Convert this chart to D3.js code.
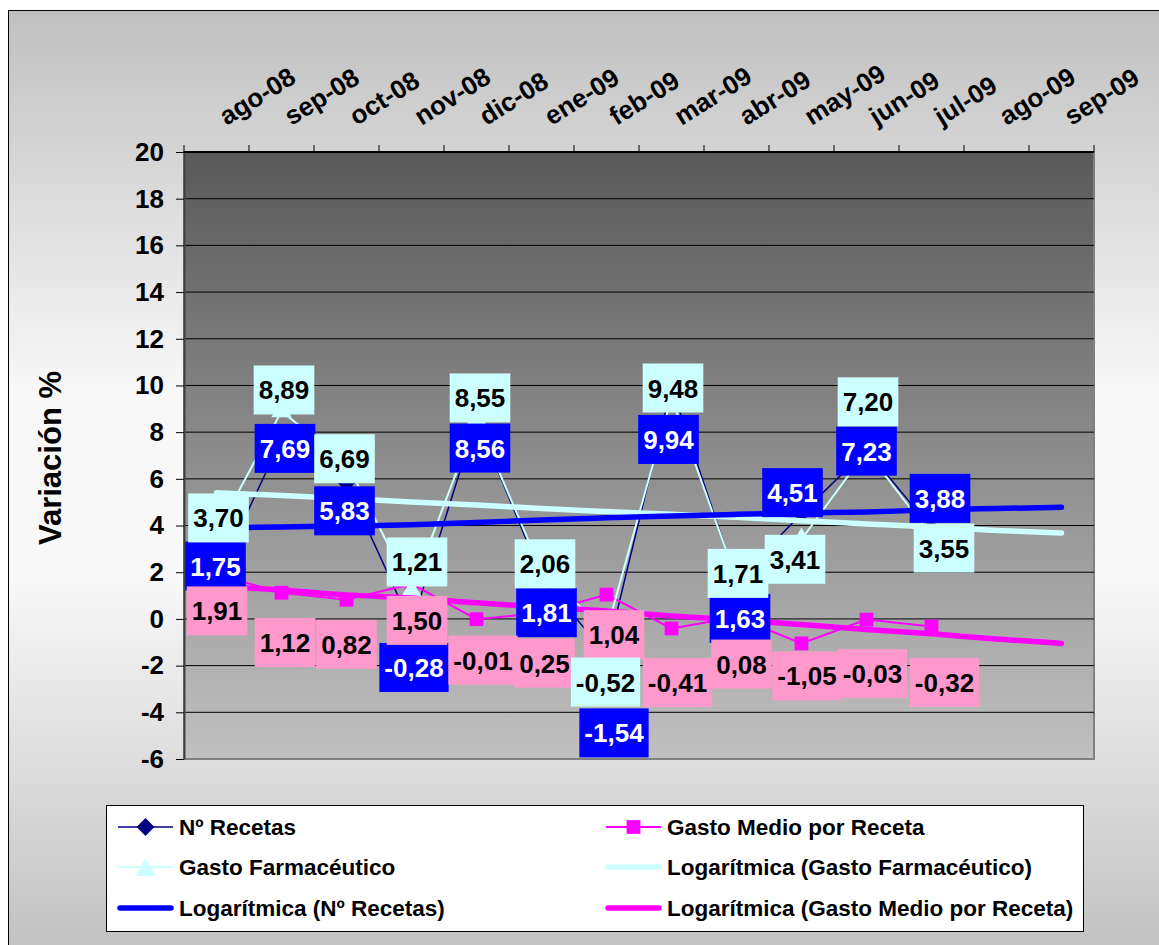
<!DOCTYPE html>
<html>
<head>
<meta charset="utf-8">
<script src="https://cdn.jsdelivr.net/npm/d3@7"></script>
<style>
  body { margin: 0; background: #fff; }
  svg text { font-family: "Liberation Sans", Arial, sans-serif; font-weight: bold; }
</style>
</head>
<body>
<svg id="chart" width="1159" height="945"></svg>
<script>
// ---- data ----
var months = ["ago-08", "sep-08", "oct-08", "nov-08", "dic-08", "ene-09", "feb-09",
              "mar-09", "abr-09", "may-09", "jun-09", "jul-09", "ago-09", "sep-09"];

var recetas    = [1.75, 7.69, 5.83, -0.28, 8.56, 1.81, -1.54, 9.94, 1.63, 4.51, 7.23, 3.88];
var gastoMedio = [1.91, 1.12, 0.82, 1.50, -0.01, 0.25, 1.04, -0.41, 0.08, -1.05, -0.03, -0.32];
var gastoFarm  = [3.70, 8.89, 6.69, 1.21, 8.55, 2.06, -0.52, 9.48, 1.71, 3.41, 7.20, 3.55];

// logarithmic trend lines as drawn (extend two months past the data)
var trendRecetas = [3.90, 3.94, 3.98, 4.03, 4.13, 4.24, 4.33, 4.41, 4.48, 4.54, 4.58, 4.67, 4.73, 4.78];
var trendMedio   = [1.41, 1.24, 1.03, 0.90, 0.69, 0.51, 0.34, 0.13, -0.04, -0.24, -0.45, -0.64, -0.86, -1.05];
var trendFarm    = [5.40, 5.29, 5.16, 5.01, 4.88, 4.73, 4.60, 4.48, 4.35, 4.20, 4.07, 3.94, 3.79, 3.68];

var yTicks = [-6, -4, -2, 0, 2, 4, 6, 8, 10, 12, 14, 16, 18, 20];

// ---- layout: label box nudges in px (labels were dragged by hand in the original) ----
var nudgeRecetas = [[-1,-12],[3.5,9],[-2,28],[2.5,42],[3.5,29],[5,36],[7.5,78],[-3,52.6],[3.5,37.6],[-9,-21],[0,1],[8.5,-30]];
var nudgeMedio   = [[0.5,36.6],[3.5,49.7],[0,44.6],[5.5,36.5],[6.5,41],[3,50],[7.5,40],[6,54],[5,47],[5.5,32.5],[6,54],[13,56]];
var nudgeFarm    = [[2,-14.6],[2.5,-21.4],[-2,-4],[5.5,-28.7],[3.5,-21.4],[3.5,-7],[-1,51],[1.5,-9.6],[1.5,-5.6],[-6.5,20],[1.5,-49],[12.5,12]];

var svg = d3.select("#chart");
var defs = svg.append("defs");

// background gradients
var bg = defs.append("linearGradient").attr("id", "bgGrad")
    .attr("x1", 0).attr("y1", 0).attr("x2", 0).attr("y2", 1);
bg.append("stop").attr("offset", "0%").attr("stop-color", "#c0c0c0");
bg.append("stop").attr("offset", "40%").attr("stop-color", "#f8f8f8");
bg.append("stop").attr("offset", "60%").attr("stop-color", "#f8f8f8");
bg.append("stop").attr("offset", "100%").attr("stop-color", "#c0c0c0");

var pg = defs.append("linearGradient").attr("id", "plotGrad")
    .attr("x1", 0).attr("y1", 0).attr("x2", 0).attr("y2", 1);
pg.append("stop").attr("offset", "0%").attr("stop-color", "#595959");
pg.append("stop").attr("offset", "100%").attr("stop-color", "#c0c0c0");

svg.append("rect")
    .attr("x", 8.5).attr("y", 10.5)
    .attr("width", 1170).attr("height", 950)
    .attr("fill", "url(#bgGrad)")
    .attr("stroke", "#000").attr("stroke-width", 1);

// scales
var x = d3.scaleBand().domain(months).range([184, 1094]);
var y = d3.scaleLinear().domain([-6, 20]).range([759, 152]);
function cx(i) { return x(months[i]) + x.bandwidth() / 2; }

// plot area
svg.append("rect")
    .attr("x", 184).attr("y", 152)
    .attr("width", 910).attr("height", 607)
    .attr("fill", "url(#plotGrad)")
    .attr("stroke", "#808080").attr("stroke-width", 2);

// gridlines
svg.append("g").selectAll("line")
    .data(yTicks.filter(function(d) { return d > -6 && d < 20; }))
    .enter().append("line")
    .attr("x1", 184).attr("x2", 1094)
    .attr("y1", function(d) { return y(d); })
    .attr("y2", function(d) { return y(d); })
    .attr("stroke", "#000").attr("stroke-width", 1);

// y axis
var yAxis = svg.append("g")
    .attr("transform", "translate(184,0)")
    .call(d3.axisLeft(y).tickValues(yTicks).tickSize(8).tickSizeOuter(0).tickPadding(12)
        .tickFormat(function(d) { return String(d); }));
yAxis.select(".domain").attr("stroke", "#404040").attr("stroke-width", 2);
yAxis.selectAll(".tick line").attr("stroke", "#000");
yAxis.selectAll(".tick text")
    .attr("font-size", 26).attr("fill", "#000")
    .attr("font-family", "Liberation Sans, Arial, sans-serif");

// top category axis (axis crosses at maximum)
var xAxis = svg.append("g");
xAxis.append("line")
    .attr("x1", 184).attr("x2", 1094).attr("y1", 152).attr("y2", 152)
    .attr("stroke", "#000").attr("stroke-width", 2);
xAxis.selectAll(".xt")
    .data(months.map(function(m) { return x(m); }).concat([x.range()[1]]))
    .enter().append("line")
    .attr("x1", function(d) { return d; }).attr("x2", function(d) { return d; })
    .attr("y1", 145).attr("y2", 152)
    .attr("stroke", "#000").attr("stroke-width", 1);
xAxis.selectAll("text")
    .data(months)
    .enter().append("text")
    .attr("transform", function(d, i) { return "translate(" + (cx(i) + 10) + ",126) rotate(-32)"; })
    .attr("font-size", 26)
    .attr("fill", "#000")
    .text(function(d) { return d; });

// y title
svg.append("text")
    .attr("transform", "translate(61,458) rotate(-90)")
    .attr("text-anchor", "middle")
    .attr("font-size", 31)
    .attr("fill", "#000")
    .text("Variación %");

// series lines
function seriesLine() {
    return d3.line()
        .x(function(d, i) { return cx(i); })
        .y(function(d) { return y(d); });
}

svg.append("path").datum(recetas)
    .attr("d", seriesLine()).attr("fill", "none")
    .attr("stroke", "#000080").attr("stroke-width", 1.5);
svg.append("path").datum(gastoMedio)
    .attr("d", seriesLine()).attr("fill", "none")
    .attr("stroke", "#ff00ff").attr("stroke-width", 2);
svg.append("path").datum(gastoFarm)
    .attr("d", seriesLine()).attr("fill", "none")
    .attr("stroke", "#ccffff").attr("stroke-width", 2);

// markers
var diamond = d3.symbol().type(d3.symbolSquare).size(160);
var square = d3.symbol().type(d3.symbolSquare).size(190);
var triangle = d3.symbol().type(d3.symbolTriangle).size(180);

svg.append("g").selectAll("path").data(recetas).enter().append("path")
    .attr("d", diamond)
    .attr("transform", function(d, i) { return "translate(" + cx(i) + "," + y(d) + ") rotate(45)"; })
    .attr("fill", "#000080");
svg.append("g").selectAll("path").data(gastoMedio).enter().append("path")
    .attr("d", square)
    .attr("transform", function(d, i) { return "translate(" + cx(i) + "," + y(d) + ")"; })
    .attr("fill", "#ff00ff");
svg.append("g").selectAll("path").data(gastoFarm).enter().append("path")
    .attr("d", triangle)
    .attr("transform", function(d, i) { return "translate(" + cx(i) + "," + y(d) + ")"; })
    .attr("fill", "#ccffff");

// trend lines
var trendLine = d3.line()
    .x(function(d, i) { return cx(i); })
    .y(function(d) { return y(d); })
    .curve(d3.curveMonotoneX);

[[trendFarm, "#ccffff"], [trendRecetas, "#0000ff"], [trendMedio, "#ff00ff"]].forEach(function(t) {
    svg.append("path").datum(t[0])
        .attr("d", trendLine).attr("fill", "none")
        .attr("stroke", t[1]).attr("stroke-width", 5.5)
        .attr("stroke-linecap", "round");
});

// data labels
var fmt = d3.formatLocale({decimal: ",", thousands: ".", grouping: [3], currency: ["", ""], minus: "-"}).format(".2f");

function drawLabels(values, nudge, boxColor, textColor) {
    var g = svg.append("g");
    values.forEach(function(v, i) {
        var lx = cx(i) + nudge[i][0];
        var ly = y(v) + nudge[i][1];
        var lab = g.append("g");
        var rect = lab.append("rect");
        var t = lab.append("text")
            .attr("x", lx).attr("y", ly + 9.5)
            .attr("text-anchor", "middle")
            .attr("font-size", 26)
            .attr("fill", textColor)
            .text(fmt(v));
        var w = t.node().getComputedTextLength() + 10;
        rect.attr("x", lx - w / 2).attr("y", ly - 24.5)
            .attr("width", w).attr("height", 49)
            .attr("fill", boxColor);
    });
}

drawLabels(recetas, nudgeRecetas, "#0000ff", "#ffffff");
drawLabels(gastoMedio, nudgeMedio, "#ff99cc", "#000000");
drawLabels(gastoFarm, nudgeFarm, "#ccffff", "#000000");

// legend
var legend = svg.append("g");
legend.append("rect")
    .attr("x", 106.5).attr("y", 805.5)
    .attr("width", 977).attr("height", 126)
    .attr("fill", "#fff").attr("stroke", "#000").attr("stroke-width", 1);

var legendItems = [
    {name: "Nº Recetas", col: 0, row: 0, color: "#000080", w: 1.5, marker: diamond, rot: 45},
    {name: "Gasto Medio por Receta", col: 1, row: 0, color: "#ff00ff", w: 2, marker: square, rot: 0},
    {name: "Gasto Farmacéutico", col: 0, row: 1, color: "#ccffff", w: 2, marker: triangle, rot: 0},
    {name: "Logarítmica (Gasto Farmacéutico)", col: 1, row: 1, color: "#ccffff", w: 5.5},
    {name: "Logarítmica (Nº Recetas)", col: 0, row: 2, color: "#0000ff", w: 5.5},
    {name: "Logarítmica (Gasto Medio por Receta)", col: 1, row: 2, color: "#ff00ff", w: 5.5}
];
var colX = [118, 606];
var rowY = [827, 867, 908];

legendItems.forEach(function(d) {
    var x0 = colX[d.col], yy = rowY[d.row];
    legend.append("line")
        .attr("x1", x0 + (d.marker ? 0 : 2)).attr("x2", x0 + (d.marker ? 55 : 53))
        .attr("y1", yy).attr("y2", yy)
        .attr("stroke", d.color).attr("stroke-width", d.w)
        .attr("stroke-linecap", d.marker ? "butt" : "round");
    if (d.marker) {
        legend.append("path")
            .attr("d", d.marker)
            .attr("transform", "translate(" + (x0 + 27.5) + "," + (yy + (d.marker === triangle ? 3 : 0)) + ") rotate(" + d.rot + ")")
            .attr("fill", d.color);
    }
    legend.append("text")
        .attr("x", x0 + 61).attr("y", yy + 8)
        .attr("font-size", 22.5)
        .attr("fill", "#000")
        .text(d.name);
});
</script>
</body>
</html>
